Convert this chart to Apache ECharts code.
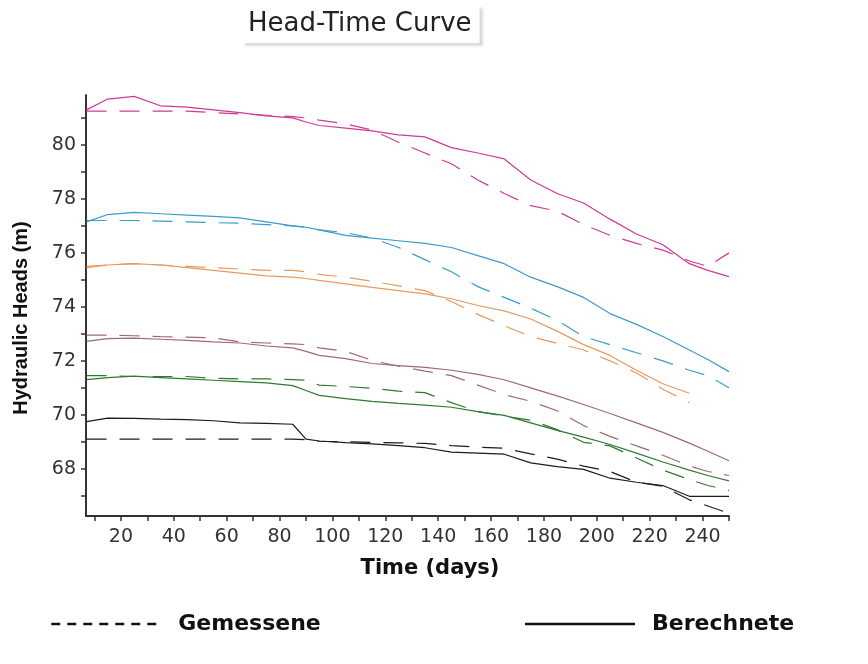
<!DOCTYPE html>
<html>
<head>
<meta charset="utf-8">
<script src="https://cdn.jsdelivr.net/npm/echarts@6/dist/echarts.min.js"></script>
<style>
  html, body { margin: 0; padding: 0; background: #fff; }
  #main { width: 868px; height: 664px; }
</style>
</head>
<body>
<div id="main"></div>
<script>
// sample days shared by all curves
var days = [7, 15, 25, 35, 45, 55, 65, 75, 85, 90, 95, 105, 115, 125, 135, 145, 155, 165, 175, 185, 195, 205, 215, 225, 235, 242, 250];

// Berechnete (solid) and Gemessene (dashed) heads per well
var magentaCalc = [81.3, 81.7, 81.8, 81.45, 81.4, 81.3, 81.2, 81.08, 81.0, 80.85, 80.72, 80.62, 80.52, 80.37, 80.3, 79.9, 79.7, 79.48, 78.7, 78.2, 77.85, 77.25, 76.7, 76.3, 75.6, 75.35, 75.12];
var magentaMeas = [81.25, 81.25, 81.25, 81.25, 81.25, 81.2, 81.15, 81.1, 81.05, 81.0, 80.92, 80.78, 80.55, 80.1, 79.7, 79.3, 78.7, 78.2, 77.75, 77.55, 77.05, 76.65, 76.35, 76.1, 75.7, 75.5, 76.0];
var cyanCalc = [77.15, 77.42, 77.5, 77.45, 77.4, 77.35, 77.3, 77.15, 77.0, 76.95, 76.85, 76.65, 76.55, 76.45, 76.35, 76.2, 75.9, 75.6, 75.1, 74.75, 74.35, 73.75, 73.35, 72.9, 72.4, 72.05, 71.6];
var cyanMeas = [77.2, 77.2, 77.2, 77.18, 77.15, 77.12, 77.1, 77.05, 77.0, 76.95, 76.85, 76.75, 76.55, 76.2, 75.75, 75.3, 74.75, 74.35, 73.95, 73.5, 72.9, 72.6, 72.3, 72.0, 71.65, 71.45, 71.0];
var orangeCalc = [75.45, 75.55, 75.6, 75.55, 75.45, 75.35, 75.25, 75.15, 75.1, 75.05, 74.98, 74.85, 74.72, 74.6, 74.48, 74.3, 74.05, 73.85, 73.55, 73.1, 72.6, 72.2, 71.65, 71.15, 70.8, null, null];
var orangeMeas = [75.5, 75.55, 75.6, 75.55, 75.5, 75.45, 75.4, 75.35, 75.35, 75.3, 75.2, 75.1, 74.95, 74.78, 74.6, 74.2, 73.72, 73.3, 72.9, 72.65, 72.4, 72.0, 71.55, 70.95, 70.45, null, null];
var mauveCalc = [72.72, 72.82, 72.84, 72.8, 72.76, 72.7, 72.66, 72.55, 72.48, 72.35, 72.2, 72.08, 71.9, 71.82, 71.76, 71.65, 71.5, 71.3, 71.0, 70.7, 70.38, 70.05, 69.7, 69.35, 68.95, 68.65, 68.3];
var mauveMeas = [72.95, 72.95, 72.93, 72.9, 72.88, 72.85, 72.7, 72.66, 72.63, 72.6, 72.48, 72.35, 72.02, 71.8, 71.62, 71.45, 71.1, 70.75, 70.5, 70.15, 69.6, 69.2, 68.85, 68.5, 68.1, 67.9, 67.75];
var greenCalc = [71.3, 71.38, 71.43, 71.38, 71.33, 71.28, 71.23, 71.18, 71.08, 70.9, 70.72, 70.6, 70.5, 70.42, 70.36, 70.28, 70.12, 69.98, 69.7, 69.42, 69.17, 68.9, 68.58, 68.25, 67.95, 67.75, 67.55];
var greenMeas = [71.45, 71.45, 71.42, 71.42, 71.42, 71.35, 71.33, 71.33, 71.3, 71.28, 71.1, 71.05, 70.98, 70.88, 70.82, 70.45, 70.12, 69.95, 69.8, 69.45, 68.98, 68.85, 68.4, 67.95, 67.6, 67.38, 67.2];
var blackCalc = [69.75, 69.88, 69.87, 69.84, 69.82, 69.78, 69.7, 69.68, 69.65, 69.1, 69.03, 68.97, 68.92, 68.86, 68.78, 68.62, 68.58, 68.54, 68.22, 68.08, 67.98, 67.65, 67.5, 67.38, 66.98, 66.98, 66.98];
var blackMeas = [69.1, 69.1, 69.1, 69.1, 69.1, 69.1, 69.1, 69.1, 69.1, 69.08, 69.02, 69.0, 68.98, 68.96, 68.94, 68.86, 68.8, 68.76, 68.55, 68.36, 68.1, 67.9, 67.5, 67.35, 66.85, 66.62, 66.35];

var xTicks = [10, 20, 30, 40, 50, 60, 70, 80, 90, 100, 110, 120, 130, 140, 150, 160, 170, 180, 190, 200, 210, 220, 230, 240, 250];
var xLabels = [20, 40, 60, 80, 100, 120, 140, 160, 180, 200, 220, 240];
var yTicks = [67, 68, 69, 70, 71, 72, 73, 74, 75, 76, 77, 78, 79, 80, 81];
var yLabels = [68, 70, 72, 74, 76, 78, 80];

var wells = [
    { calc: magentaCalc, meas: magentaMeas, color: '#cf3a97' },
    { calc: cyanCalc, meas: cyanMeas, color: '#3a9ccc' },
    { calc: orangeCalc, meas: orangeMeas, color: '#e69a60' },
    { calc: mauveCalc, meas: mauveMeas, color: '#a06a72' },
    { calc: greenCalc, meas: greenMeas, color: '#2f7a32' },
    { calc: blackCalc, meas: blackMeas, color: '#1c1c1c' }
];

function pairs(vals) {
    var out = [];
    for (var i = 0; i < days.length; i++) {
        if (vals[i] != null) out.push([days[i], vals[i]]);
    }
    return out;
}

var series = [];
wells.forEach(function (w) {
    series.push({
        type: 'line', data: pairs(w.meas), symbol: 'none', silent: true,
        lineStyle: { color: w.color, width: 1.2, type: [20, 13] }
    });
    series.push({
        type: 'line', data: pairs(w.calc), symbol: 'none', silent: true,
        lineStyle: { color: w.color, width: 1.2 }
    });
});
// legend-only entries
series.push({ name: 'Gemessene', type: 'line', data: [], symbol: 'none', itemStyle: { color: '#111' }, lineStyle: { color: '#111', width: 2.5, type: [9, 7] } });
series.push({ name: 'Berechnete', type: 'line', data: [], symbol: 'none', itemStyle: { color: '#111' }, lineStyle: { color: '#111', width: 2 } });

var option = {
    animation: false,
    backgroundColor: '#fff',
    title: {
        text: 'Head-Time Curve',
        left: 242,
        top: 5,
        padding: [6, 8, 6, 6],
        backgroundColor: '#fff',
        shadowColor: 'rgba(0,0,0,0.14)',
        shadowOffsetX: 3,
        shadowOffsetY: 3,
        shadowBlur: 2,
        textStyle: { fontFamily: 'DejaVu Sans', fontSize: 26, fontWeight: 'normal', color: '#222', lineHeight: 26 }
    },
    legend: {
        data: ['Gemessene', 'Berechnete'],
        left: 45,
        top: 608,
        itemWidth: 110,
        itemHeight: 14,
        itemGap: 203,
        selectedMode: false,
        itemStyle: { opacity: 0, borderWidth: 0 },
        lineStyle: { width: 2.5 },
        textStyle: { fontFamily: 'DejaVu Sans', fontWeight: 'bold', fontSize: 22, color: '#111', padding: [0, 0, 0, 12] }
    },
    grid: { left: 86, right: 139, top: 95, bottom: 148 },
    xAxis: {
        type: 'value',
        min: 6.8,
        max: 250,
        splitLine: { show: false },
        axisLine: { lineStyle: { color: '#333', width: 2 } },
        axisTick: { customValues: xTicks, length: 5, lineStyle: { color: '#333', width: 1.5 } },
        axisLabel: { customValues: xLabels, margin: 12, fontFamily: 'DejaVu Sans', fontSize: 19, color: '#333' }
    },
    yAxis: {
        type: 'value',
        min: 66.25,
        max: 81.85,
        splitLine: { show: false },
        axisLine: { show: true, lineStyle: { color: '#333', width: 2 } },
        axisTick: { show: true, customValues: yTicks, length: 5, lineStyle: { color: '#333', width: 1.5 } },
        axisLabel: { customValues: yLabels, margin: 10, fontFamily: 'DejaVu Sans', fontSize: 19, color: '#333' }
    },
    graphic: [
        {
            type: 'text', x: 21, y: 318, rotation: Math.PI / 2,
            style: { text: 'Hydraulic Heads (m)', fontFamily: 'Liberation Sans', fontWeight: 'bold', fontSize: 20, fill: '#111', textAlign: 'center', textVerticalAlign: 'middle' }
        },
        {
            type: 'text', x: 430, y: 569,
            style: { text: 'Time (days)', fontFamily: 'DejaVu Sans', fontWeight: 'bold', fontSize: 21, fill: '#111', textAlign: 'center', textVerticalAlign: 'middle' }
        }
    ],
    series: series
};

var myechart = echarts.init(document.getElementById('main'));
myechart.setOption(option);
</script>
</body>
</html>
